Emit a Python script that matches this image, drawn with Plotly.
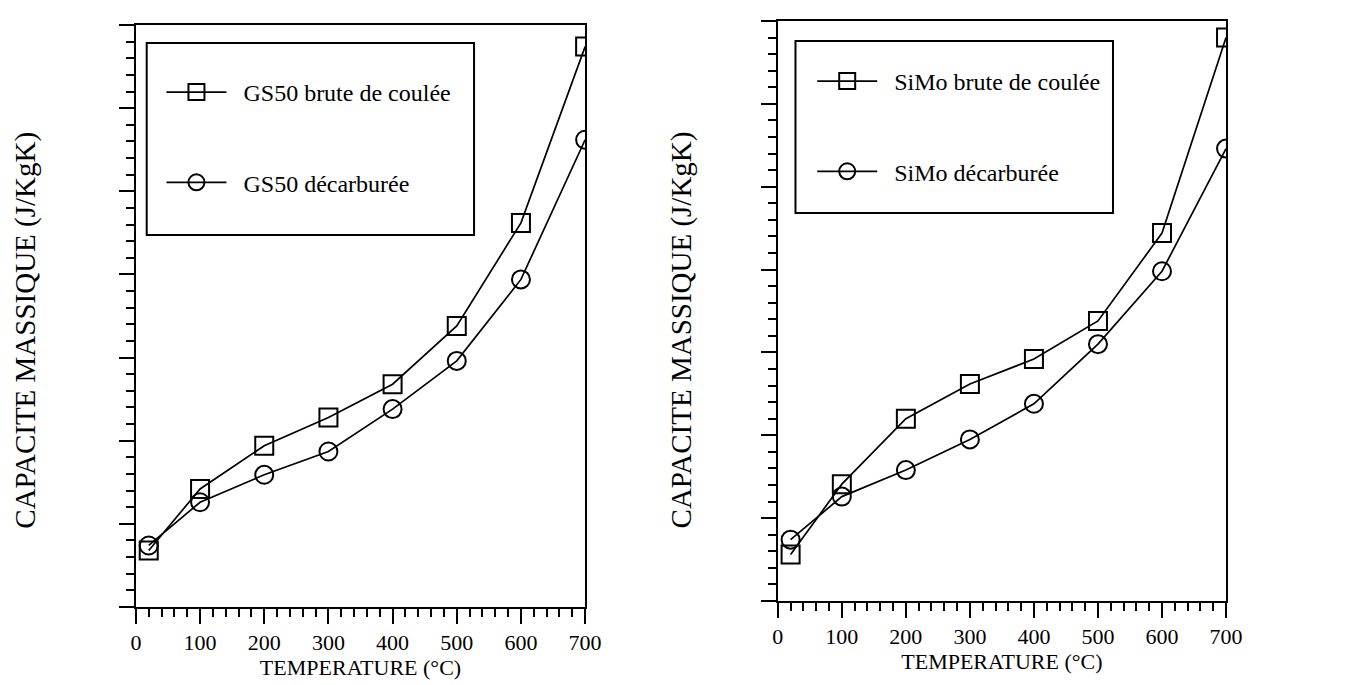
import plotly.graph_objects as go

# ---- data (arbitrary units, y axis unlabeled in the original) ----
temperature = [20, 100, 200, 300, 400, 500, 600, 700]

gs50_brute = [3.4, 7.1, 9.7, 11.4, 13.4, 16.9, 23.1, 33.7]
gs50_decarb = [3.7, 6.3, 7.95, 9.35, 11.9, 14.8, 19.7, 28.1]

simo_brute = [2.8, 7.05, 11.0, 13.1, 14.6, 16.9, 22.2, 34.0]
simo_decarb = [3.7, 6.3, 7.9, 9.75, 11.9, 15.5, 19.9, 27.3]

x_ticks = [0, 100, 200, 300, 400, 500, 600, 700]

y_title = "CAPACITE MASSIQUE (J/KgK)"
x_title = "TEMPERATURE (°C)"

W, H = 1353, 685
FONT = "Liberation Serif, Times New Roman, Times, serif"
SP = "\u2002"  # spacing between legend glyph and label

fig = go.Figure()

def add_series(x, y, name, symbol, xa, ya, legend):
    fig.add_trace(go.Scatter(
        x=x, y=y, name=SP + name, mode="lines+markers",
        line=dict(color="black", width=1.7),
        marker=dict(symbol=symbol, size=18, color="black", line=dict(width=2, color="black")),
        xaxis=xa, yaxis=ya, legend=legend, legendgroup=name,
    ))

add_series(temperature, gs50_brute, "GS50 brute de coulée", "square-open", "x", "y", "legend")
add_series(temperature, gs50_decarb, "GS50 décarburée", "circle-open", "x", "y", "legend")
add_series(temperature, simo_brute, "SiMo brute de coulée", "square-open", "x2", "y2", "legend2")
add_series(temperature, simo_decarb, "SiMo décarburée", "circle-open", "x2", "y2", "legend2")

def xaxis_cfg(x0, x1, anchor):
    return dict(
        domain=[x0 / W, x1 / W], anchor=anchor, range=[0, 700],
        tickvals=x_ticks, ticks="outside", ticklen=15, tickwidth=1.8, tickcolor="black",
        minor=dict(dtick=20, ticks="outside", ticklen=8, tickwidth=1.5, tickcolor="black", showgrid=False),
        showline=True, linecolor="black", linewidth=2, mirror=True,
        showgrid=False, zeroline=False,
        tickfont=dict(family=FONT, size=22, color="black"),
        title=dict(text=x_title, font=dict(family=FONT, size=22, color="black"), standoff=4),
    )

def yaxis_cfg(y_top, y_bot, anchor):
    return dict(
        domain=[(H - y_bot) / H, (H - y_top) / H], anchor=anchor, range=[0, 35],
        dtick=5, showticklabels=False, ticks="outside", ticklen=15, tickwidth=1.8, tickcolor="black",
        minor=dict(dtick=1, ticks="outside", ticklen=8, tickwidth=1.5, tickcolor="black", showgrid=False),
        showline=True, linecolor="black", linewidth=2, mirror=True,
        showgrid=False, zeroline=False,
    )

def legend_cfg(x0, y0):
    return dict(
        x=x0 / W, y=(H - y0) / H, xanchor="left", yanchor="top",
        borderwidth=0, bgcolor="rgba(0,0,0,0)",
        font=dict(family=FONT, size=24, color="black"),
        itemwidth=60, tracegroupgap=56,
    )

# legend frames (boxes around the two legends)
shapes = []
for (bx0, by0, bx1, by1) in [(135, 35, 468, 227), (795, 33, 1118, 205)]:
    shapes.append(dict(type="rect", xref="paper", yref="paper",
                       x0=bx0 / W, x1=bx1 / W, y0=(H - by1) / H, y1=(H - by0) / H,
                       line=dict(color="black", width=2), fillcolor="white", layer="below"))

# rotated y-axis titles
annotations = []
for (cx, cy) in [(11, 322), (679, 322)]:
    annotations.append(dict(text=y_title, xref="paper", yref="paper",
                            x=cx / W, y=(H - cy) / H, xanchor="center", yanchor="middle",
                            textangle=-90, showarrow=False,
                            font=dict(family=FONT, size=29, color="black")))

fig.update_layout(
    width=W, height=H,
    margin=dict(l=0, r=0, t=0, b=0),
    paper_bgcolor="white", plot_bgcolor="rgba(0,0,0,0)",
    xaxis=xaxis_cfg(124, 581, "y"),
    yaxis=yaxis_cfg(17, 599, "x"),
    xaxis2=xaxis_cfg(777, 1233, "y2"),
    yaxis2=yaxis_cfg(13, 593, "x2"),
    legend=legend_cfg(150, 62),
    legend2=legend_cfg(812, 51),
    shapes=shapes,
    annotations=annotations,
    showlegend=True,
)

fig.write_html("out.html")
